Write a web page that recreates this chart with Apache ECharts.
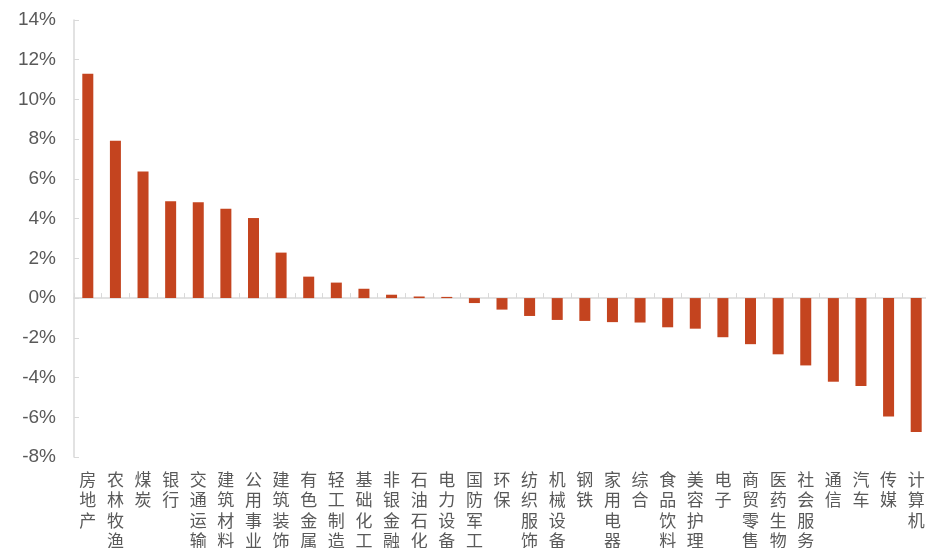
<!DOCTYPE html>
<html>
<head>
<meta charset="utf-8">
<script src="https://cdn.jsdelivr.net/npm/echarts@6/dist/echarts.min.js"></script>
<style>
  html, body { margin: 0; padding: 0; background: #fff; }
  #chart { width: 926px; height: 548px; }
</style>
</head>
<body>
<div id="chart"></div>
<script>
// Industry names (one per bar)
const industries = [
  '房地产', '农林牧渔', '煤炭', '银行', '交通运输', '建筑材料', '公用事业', '建筑装饰',
  '有色金属', '轻工制造', '基础化工', '非银金融', '石油石化', '电力设备', '国防军工', '环保',
  '纺织服饰', '机械设备', '钢铁', '家用电器', '综合', '食品饮料', '美容护理', '电子',
  '商贸零售', '医药生物', '社会服务', '通信', '汽车', '传媒', '计算机'
];

// Weekly change, in percent
const changes = [
  11.30, 7.92, 6.37, 4.87, 4.82, 4.50, 4.03, 2.29,
  1.08, 0.78, 0.47, 0.17, 0.08, 0.06, -0.25, -0.58,
  -0.90, -1.10, -1.15, -1.21, -1.23, -1.47, -1.54, -1.97,
  -2.32, -2.83, -3.39, -4.21, -4.43, -5.96, -6.74
];

// Value axis range and step, in percent
const yMin = -8;
const yMax = 14;
const yStep = 2;

const axisGrey = '#d9d9d9';
const textGrey = '#595959';

const chart = echarts.init(document.getElementById('chart'), null, { renderer: 'canvas' });

chart.setOption({
  animation: false,
  backgroundColor: '#ffffff',
  grid: {
    left: 74, right: -4, top: 20, bottom: 91,
    containLabel: false,
    outerBoundsMode: 'none'
  },
  xAxis: [
    {
      // names along the bottom edge of the plot
      type: 'category',
      data: industries,
      position: 'bottom',
      boundaryGap: true,
      axisLine: { show: false, onZero: false },
      axisTick: { show: false },
      axisLabel: {
        interval: 0,
        margin: 12,
        color: textGrey,
        fontSize: 17,
        lineHeight: 20.5,
        fontFamily: '"Noto Sans CJK SC", sans-serif',
        hideOverlap: false,
        formatter: (name) => name.split('').join('\n')
      },
      splitLine: { show: false }
    },
    {
      // zero baseline with small upward ticks between bars
      type: 'category',
      data: industries,
      position: 'top',
      boundaryGap: true,
      axisLine: { show: true, onZero: true, lineStyle: { color: axisGrey, width: 1.5 } },
      axisTick: { show: true, inside: false, length: 5, interval: 0, lineStyle: { color: axisGrey } },
      axisLabel: { show: false },
      splitLine: { show: false }
    }
  ],
  yAxis: {
    type: 'value',
    min: yMin,
    max: yMax,
    interval: yStep,
    axisLine: { show: true, lineStyle: { color: axisGrey, width: 1.5 } },
    axisTick: { show: true, inside: true, length: 5, lineStyle: { color: axisGrey } },
    axisLabel: {
      margin: 18,
      color: textGrey,
      fontSize: 19,
      fontFamily: '"Liberation Sans", Arial, sans-serif',
      formatter: '{value}%'
    },
    splitLine: { show: false }
  },
  series: [{
    type: 'bar',
    xAxisIndex: 0,
    data: changes,
    barWidth: 11,
    itemStyle: { color: '#c4441f' }
  }]
});
</script>
</body>
</html>
